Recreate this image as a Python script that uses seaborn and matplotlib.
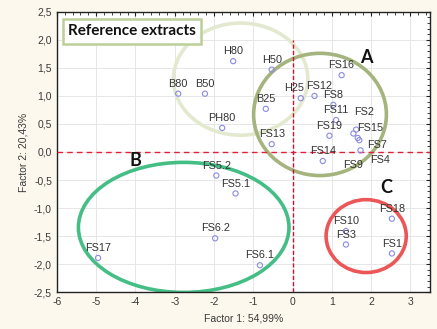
import matplotlib
matplotlib.use("Agg")
import matplotlib.pyplot as plt
from matplotlib.patches import Ellipse
from matplotlib.ticker import MultipleLocator, FuncFormatter
import seaborn as sns
import pandas as pd

# Sample scores on the first two factors
labels = ["B80", "B50", "H80", "H50", "B25", "PH80", "FS13", "H25", "FS12",
          "FS16", "FS8", "FS11", "FS19", "FS2", "FS15", "FS7", "FS4", "FS9",
          "FS14", "FS5.2", "FS5.1", "FS6.2", "FS6.1", "FS17",
          "FS10", "FS3", "FS18", "FS1"]
factor1 = [-2.91, -2.23, -1.51, -0.53, -0.68, -1.79, -0.53, 0.21, 0.56,
           1.25, 1.04, 1.11, 0.94, 1.62, 1.55, 1.66, 1.70, 1.73,
           0.77, -1.94, -1.45, -1.97, -0.83, -4.95,
           1.36, 1.36, 2.53, 2.53]
factor2 = [1.04, 1.04, 1.62, 1.47, 0.77, 0.43, 0.14, 0.96, 1.00,
           1.37, 0.84, 0.57, 0.29, 0.40, 0.33, 0.25, 0.21, 0.03,
           -0.16, -0.42, -0.74, -1.54, -2.02, -1.89,
           -1.41, -1.65, -1.19, -1.81]

# Label nudges (points) for the crowded group on the right
label_nudge = {"H25": (-5, 3.5), "FS12": (3, 3.5), "FS2": (6, 9), "FS15": (12, 0),
               "FS7": (14, -9), "FS4": (15, -18), "FS9": (-5, -14)}

# Group outlines: centre x, centre y, width, height
group_names = ["ref", "A", "B", "C"]
group_cx = [-1.32, 0.70, -2.77, 1.875]
group_cy = [1.30, 0.67, -1.345, -1.50]
group_w = [3.42, 3.38, 5.36, 2.04]
group_h = [2.00, 2.18, 2.32, 1.30]
group_colors = ["#e3e9cf", "#a4b47c", "#45be86", "#eb5656"]

df = pd.DataFrame({"label": labels, "f1": factor1, "f2": factor2})

sns.set_style("white")
plt.rcParams["font.family"] = ["Liberation Sans", "DejaVu Sans"]

fig = plt.figure(figsize=(4.37, 3.29), dpi=100, facecolor="#fcf8ed")
ax = fig.add_axes([0.130, 0.112, 0.854, 0.852])
ax.set_facecolor("white")

ax.set_xlim(-6, 3.5)
ax.set_ylim(-2.5, 2.5)
ax.xaxis.set_major_locator(MultipleLocator(1))
ax.yaxis.set_major_locator(MultipleLocator(0.5))
ax.xaxis.set_minor_locator(MultipleLocator(0.2))
ax.yaxis.set_minor_locator(MultipleLocator(0.1))
ax.yaxis.set_major_formatter(FuncFormatter(lambda v, p: f"{v:.1f}".replace(".", ",")))
ax.xaxis.set_major_formatter(FuncFormatter(lambda v, p: f"{v:.0f}"))
ax.grid(True, which="major", color="#e6e6e6", linewidth=0.7)
ax.set_axisbelow(True)
ax.tick_params(which="both", direction="in", top=True, right=True,
               labelsize=7.5, labelcolor="#3a3a3a", color="#222222")
ax.tick_params(which="major", length=3, width=0.8)
ax.tick_params(which="minor", length=2, width=0.6)
for s in ax.spines.values():
    s.set_color("#222222")
    s.set_linewidth(1.0)

# Group outlines
for name, cx, cy, w, h, c in zip(group_names, group_cx, group_cy, group_w, group_h, group_colors):
    ax.add_patch(Ellipse((cx, cy), w, h, fill=False, edgecolor=c, linewidth=2.6, zorder=2))

# Origin reference lines
ax.axhline(0, color="#e0203a", linestyle=(0, (4, 3)), linewidth=1.0, zorder=3)
ax.vlines(0, -2.5, 2.0, color="#d01030", linestyles=(0, (3, 1.5)), linewidth=1.0, zorder=3)

sns.scatterplot(data=df, x="f1", y="f2", ax=ax, marker="o", s=14,
                facecolors="none", edgecolor="#8a8ae6", linewidth=0.8, zorder=4)

for lab, x, y in zip(labels, factor1, factor2):
    ax.annotate(lab, (x, y), xytext=label_nudge.get(lab, (0, 3.5)),
                textcoords="offset points", ha="center", va="bottom",
                fontsize=7.8, color="#333333", zorder=5)

ax.text(1.87, 1.69, "A", fontsize=13, fontweight="bold", family="Lato",
        ha="center", va="center", color="#111111")
ax.text(-4.0, -0.15, "B", fontsize=13, fontweight="bold", family="Lato",
        ha="center", va="center", color="#111111")
ax.text(2.39, -0.63, "C", fontsize=13, fontweight="bold", family="Lato",
        ha="center", va="center", color="#111111")

ax.text(0.03, 0.93, "Reference extracts", transform=ax.transAxes,
        fontsize=11, fontweight="bold", family="Lato", color="#111111",
        ha="left", va="center", zorder=6,
        bbox=dict(boxstyle="square,pad=0.35", facecolor="white",
                  edgecolor="#bccf98", linewidth=1.8))

ax.set_xlabel("Factor 1: 54,99%", fontsize=7.5, color="#3a3a3a", labelpad=5)
ax.set_ylabel("Factor 2: 20,43%", fontsize=7.5, color="#3a3a3a", labelpad=4)

fig.savefig("out.png", dpi=100, facecolor=fig.get_facecolor())
